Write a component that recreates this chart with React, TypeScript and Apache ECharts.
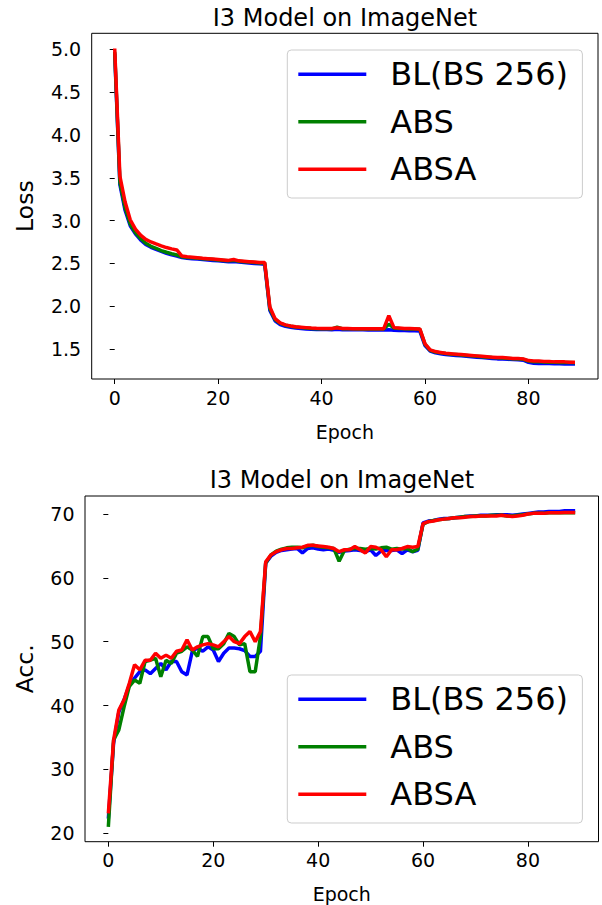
import React, { useEffect, useRef } from "react";
import * as echarts from "echarts";

const FONT = "DejaVu Sans";
const TITLE = "I3 Model on ImageNet";
const SERIES_NAMES = ["BL(BS 256)", "ABS", "ABSA"];
const SERIES_COLORS = ["#0000ff", "#008000", "#ff0000"];
const X_TICKS = [0, 20, 40, 60, 80];
const LOSS_TICKS = [1.5, 2.0, 2.5, 3.0, 3.5, 4.0, 4.5, 5.0];
const ACC_TICKS = [20, 30, 40, 50, 60, 70];

const lossBL = [
  4.95, 3.42, 3.12, 2.94, 2.845, 2.775, 2.72, 2.688, 2.663, 2.64,
  2.618, 2.6, 2.586, 2.568, 2.56, 2.555, 2.55, 2.545, 2.54, 2.535,
  2.53, 2.525, 2.52, 2.522, 2.515, 2.51, 2.505, 2.5, 2.495, 2.49,
  1.95, 1.83, 1.785, 1.765, 1.755, 1.745, 1.74, 1.735, 1.73, 1.728,
  1.727, 1.727, 1.726, 1.73, 1.726, 1.725, 1.725, 1.724, 1.724, 1.723,
  1.723, 1.722, 1.722, 1.725, 1.718, 1.716, 1.715, 1.714, 1.712, 1.71,
  1.54, 1.475, 1.455, 1.445, 1.435, 1.43, 1.425, 1.42, 1.415, 1.41,
  1.405, 1.4, 1.395, 1.39, 1.385, 1.383, 1.38, 1.377, 1.375, 1.37,
  1.345, 1.335, 1.332, 1.33, 1.33, 1.328, 1.327, 1.326, 1.325, 1.325,
];

const lossABS = [
  4.97, 3.45, 3.15, 2.96, 2.86, 2.79, 2.735, 2.7, 2.675, 2.65,
  2.63, 2.613, 2.598, 2.578, 2.57, 2.565, 2.56, 2.555, 2.55, 2.545,
  2.54, 2.535, 2.53, 2.535, 2.525, 2.52, 2.515, 2.51, 2.505, 2.505,
  1.97, 1.845, 1.8, 1.778, 1.765, 1.757, 1.75, 1.745, 1.74, 1.738,
  1.737, 1.737, 1.736, 1.755, 1.738, 1.737, 1.736, 1.735, 1.735, 1.734,
  1.734, 1.733, 1.733, 1.79, 1.745, 1.74, 1.737, 1.735, 1.733, 1.73,
  1.555, 1.485, 1.465, 1.455, 1.447, 1.44, 1.435, 1.43, 1.425, 1.42,
  1.415, 1.41, 1.405, 1.4, 1.397, 1.394, 1.39, 1.387, 1.385, 1.38,
  1.36, 1.352, 1.35, 1.348, 1.347, 1.345, 1.344, 1.343, 1.342, 1.341,
];

const lossABSA = [
  5.01, 3.52, 3.22, 3.01, 2.9, 2.83, 2.78, 2.75, 2.727, 2.705,
  2.685, 2.67, 2.657, 2.586, 2.578, 2.572, 2.566, 2.56, 2.555, 2.55,
  2.545, 2.54, 2.535, 2.545, 2.53, 2.525, 2.52, 2.515, 2.51, 2.51,
  1.99, 1.855, 1.805, 1.782, 1.77, 1.76, 1.755, 1.75, 1.745, 1.742,
  1.74, 1.74, 1.74, 1.748, 1.74, 1.739, 1.738, 1.738, 1.737, 1.737,
  1.736, 1.736, 1.736, 1.89, 1.75, 1.745, 1.74, 1.74, 1.738, 1.735,
  1.56, 1.49, 1.47, 1.46, 1.45, 1.445, 1.44, 1.435, 1.43, 1.425,
  1.42, 1.415, 1.41, 1.405, 1.4, 1.4, 1.395, 1.39, 1.39, 1.385,
  1.365, 1.36, 1.36, 1.355, 1.355, 1.35, 1.35, 1.35, 1.345, 1.345,
];

const accBL = [
  22.3, 34.1, 39.0, 40.9, 43.2, 44.3, 45.3, 45.6, 45.0, 45.8,
  46.6, 45.6, 46.9, 46.9, 45.3, 44.8, 48.5, 49.0, 48.5, 49.2,
  48.7, 46.9, 48.2, 49.0, 49.0, 48.9, 48.6, 47.7, 47.7, 48.5,
  62.3, 63.4, 64.0, 64.3, 64.4, 64.5, 64.6, 63.9, 64.6, 64.7,
  64.5, 64.4, 64.5, 64.3, 64.0, 64.2, 64.3, 64.4, 64.3, 64.1,
  64.4, 63.5, 64.2, 64.3, 64.3, 64.4, 63.8, 64.4, 64.1, 64.3,
  68.6, 68.9, 69.0, 69.2, 69.3, 69.3, 69.4, 69.5, 69.6, 69.7,
  69.7, 69.8, 69.8, 69.8, 69.9, 69.9, 69.9, 69.8, 69.9, 70.0,
  70.1, 70.2, 70.3, 70.3, 70.4, 70.4, 70.4, 70.5, 70.5, 70.5,
];

const accABS = [
  21.0, 34.6, 36.2, 39.8, 43.0, 44.0, 43.5, 46.9, 47.1, 47.4,
  44.5, 47.1, 46.6, 48.2, 48.5, 49.2, 48.7, 47.7, 50.8, 50.8,
  48.9, 48.9, 49.7, 51.3, 50.8, 49.5, 49.7, 45.3, 45.3, 50.8,
  62.3, 63.6, 64.2, 64.5, 64.7, 64.8, 64.8, 64.7, 65.0, 65.1,
  64.9, 64.8, 64.7, 64.6, 62.6, 64.3, 64.5, 64.6, 64.6, 64.5,
  64.6, 64.5, 64.7, 64.8, 64.5, 64.6, 64.5, 64.6, 64.1, 64.5,
  68.4, 68.8, 69.0, 69.1, 69.2, 69.3, 69.4, 69.5, 69.6, 69.6,
  69.7, 69.7, 69.7, 69.8, 69.8, 69.8, 69.7, 69.7, 69.8, 69.9,
  70.0, 70.1, 70.1, 70.1, 70.2, 70.2, 70.2, 70.2, 70.2, 70.2,
];

const accABSA = [
  23.1, 34.6, 39.3, 40.9, 43.5, 46.4, 45.6, 47.1, 47.1, 48.2,
  47.4, 47.9, 47.4, 48.5, 48.7, 50.3, 48.7, 49.2, 49.5, 49.7,
  49.5, 49.2, 50.0, 50.8, 50.0, 49.7, 50.8, 51.6, 50.0, 51.6,
  62.5, 63.6, 64.1, 64.4, 64.6, 64.6, 64.7, 64.8, 65.1, 65.1,
  65.0, 64.9, 64.8, 64.6, 64.1, 64.4, 64.4, 64.9, 64.4, 63.9,
  64.9, 64.8, 64.4, 63.3, 64.4, 64.4, 64.6, 64.9, 64.8, 64.9,
  68.5, 68.8, 68.9, 69.1, 69.2, 69.3, 69.4, 69.4, 69.5, 69.6,
  69.6, 69.7, 69.7, 69.7, 69.7, 69.8, 69.7, 69.6, 69.7, 69.8,
  70.0, 70.1, 70.1, 70.1, 70.2, 70.2, 70.2, 70.25, 70.25, 70.25,
];

const LOSS_SERIES = [lossBL, lossABS, lossABSA];
const ACC_SERIES = [accBL, accABS, accABSA];

function buildOption() {
  const tickLabel = { fontFamily: FONT, fontSize: 19, color: "#000" };
  const xAxisBase = (gridIndex: number) => ({
    type: "value",
    gridIndex,
    min: -4.45,
    max: 93.45,
    name: "Epoch",
    nameLocation: "middle",
    nameGap: 43,
    nameTextStyle: { fontFamily: FONT, fontSize: 19, color: "#000" },
    axisLine: { show: false },
    splitLine: { show: false },
    axisTick: {
      show: true,
      length: 5,
      customValues: X_TICKS,
      lineStyle: { color: "#000", width: 1 },
    },
    axisLabel: { ...tickLabel, margin: 9, customValues: X_TICKS },
  });

  const yAxisBase = (
    gridIndex: number,
    min: number,
    max: number,
    ticks: number[],
    name: string,
    nameGap: number,
    fmt: (v: number) => string
  ) => ({
    type: "value",
    gridIndex,
    min,
    max,
    name,
    nameLocation: "middle",
    nameGap,
    nameTextStyle: { fontFamily: FONT, fontSize: 23.5, color: "#000" },
    axisLine: { show: false },
    splitLine: { show: false },
    axisTick: {
      show: true,
      length: 5,
      customValues: ticks,
      lineStyle: { color: "#000", width: 1 },
    },
    axisLabel: {
      ...tickLabel,
      margin: 10.5,
      customValues: ticks,
      formatter: (v: number) => fmt(v),
    },
  });

  const series: any[] = [];
  LOSS_SERIES.forEach((arr, i) => {
    series.push({
      type: "line",
      name: SERIES_NAMES[i],
      xAxisIndex: 0,
      yAxisIndex: 0,
      data: arr.map((v, e) => [e, v]),
      showSymbol: false,
      symbol: "none",
      z: 2 + i,
      itemStyle: { color: SERIES_COLORS[i] },
      lineStyle: { color: SERIES_COLORS[i], width: 3.5 },
    });
  });
  ACC_SERIES.forEach((arr, i) => {
    series.push({
      type: "line",
      name: SERIES_NAMES[i],
      xAxisIndex: 1,
      yAxisIndex: 1,
      data: arr.map((v, e) => [e, v]),
      showSymbol: false,
      symbol: "none",
      z: 2 + i,
      itemStyle: { color: SERIES_COLORS[i] },
      lineStyle: { color: SERIES_COLORS[i], width: 3.5 },
    });
  });

  const legendBase = (top: number) => ({
    data: SERIES_NAMES,
    orient: "vertical",
    left: 287.3,
    top,
    icon: "rect",
    itemWidth: 68,
    itemHeight: 3.5,
    itemGap: 15.5,
    padding: [8.3, 14.4, 12.7, 11],
    backgroundColor: "rgba(255,255,255,0.8)",
    borderColor: "#cccccc",
    borderWidth: 1,
    borderRadius: 4,
    selectedMode: false,
    textStyle: {
      fontFamily: FONT,
      fontSize: 32,
      color: "#000",
      padding: [0, 0, 0, 19],
    },
  });

  return {
    animation: false,
    backgroundColor: "#ffffff",
    grid: [
      {
        left: 91.7,
        top: 33.3,
        width: 506.3,
        height: 345.7,
        show: true,
        borderColor: "#000",
        borderWidth: 1,
        backgroundColor: "transparent",
      },
      {
        left: 85,
        top: 496,
        width: 513.5,
        height: 345.7,
        show: true,
        borderColor: "#000",
        borderWidth: 1,
        backgroundColor: "transparent",
      },
    ],
    xAxis: [xAxisBase(0), xAxisBase(1)],
    yAxis: [
      yAxisBase(0, 1.15, 5.187, LOSS_TICKS, "Loss", 54.7, (v) => v.toFixed(1)),
      yAxisBase(1, 18.68, 72.82, ACC_TICKS, "Acc.", 47.8, (v) => String(Math.round(v))),
    ],
    legend: [legendBase(50), legendBase(675)],
    graphic: [
      {
        type: "text",
        x: 345,
        y: 17.6,
        style: {
          text: TITLE,
          fontFamily: FONT,
          fontSize: 24,
          fill: "#000",
          textAlign: "center",
          textVerticalAlign: "middle",
        },
      },
      {
        type: "text",
        x: 342,
        y: 480.4,
        style: {
          text: TITLE,
          fontFamily: FONT,
          fontSize: 24,
          fill: "#000",
          textAlign: "center",
          textVerticalAlign: "middle",
        },
      },
    ],
    series,
  };
}

export default function App() {
  const ref = useRef<HTMLDivElement>(null);
  useEffect(() => {
    document.body.style.margin = "0";
    if (!ref.current) return;
    const chart = echarts.init(ref.current, null, { renderer: "svg" });
    chart.setOption(buildOption() as any);
    return () => {
      chart.dispose();
    };
  }, []);
  return (
    <div
      ref={ref}
      style={{ position: "absolute", left: 0, top: 0, width: 602, height: 905 }}
    />
  );
}
